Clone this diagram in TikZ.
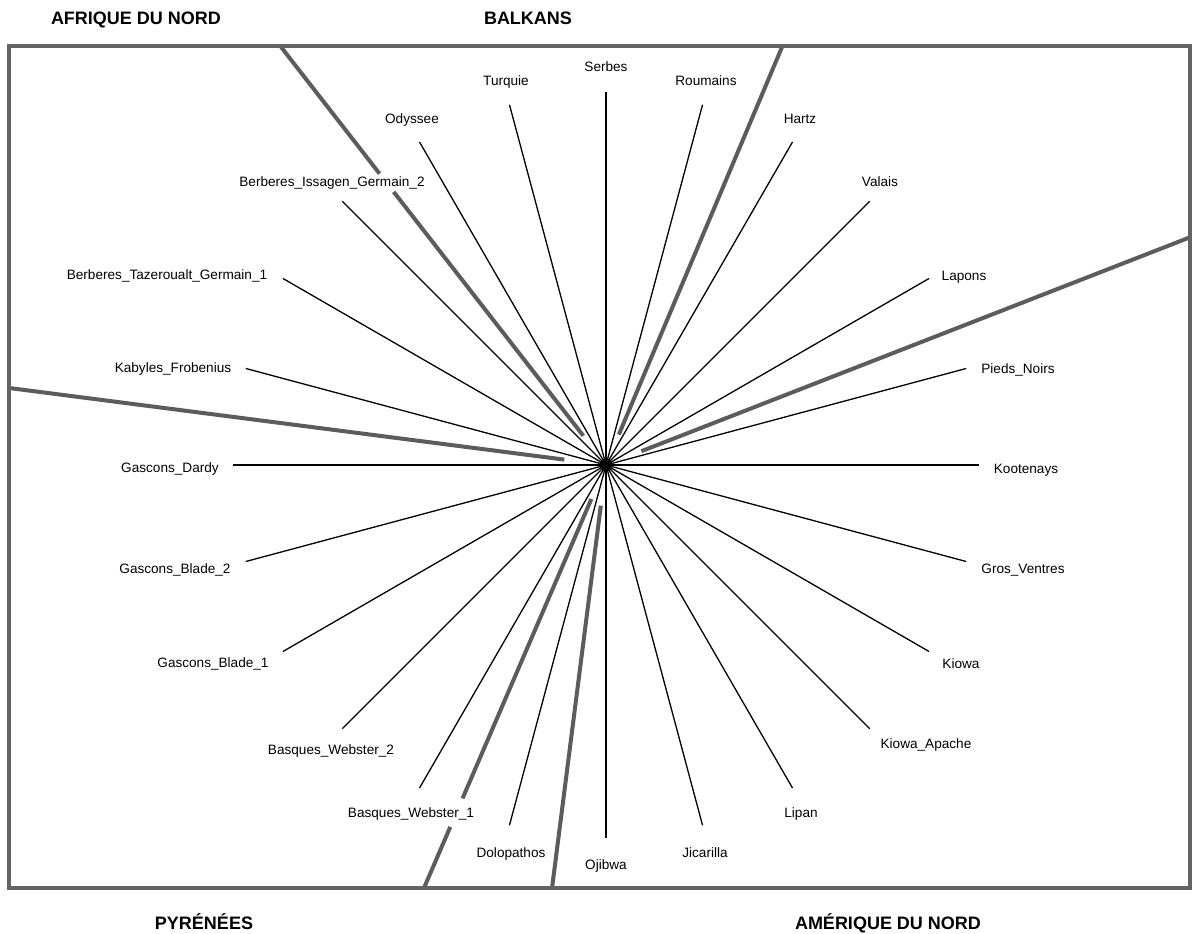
\documentclass[tikz,border=0pt]{standalone}
\usepackage{fontspec}
\setmainfont{Liberation Sans}
\usetikzlibrary{shapes.geometric,calc}
\definecolor{sepgray}{RGB}{92,92,92}
\definecolor{framegray}{RGB}{100,100,100}
\begin{document}
\begin{tikzpicture}[x=1pt,y=1pt,
  ray/.style={line width=1.3pt, black},
  sepline/.style={line width=4pt, sepgray},
  lab/.style={font=\fontsize{13.6}{14}\selectfont, inner sep=0pt, text height=10pt, text depth=0pt, anchor=center},
  region/.style={font=\bfseries\fontsize{18}{20}\selectfont, inner sep=0pt, text height=13pt, text depth=0pt, anchor=center},
  hub/.style={diamond, fill=black, inner sep=0pt, minimum width=16pt, minimum height=17pt}]
\useasboundingbox (0,0) rectangle (1195,934);
\fill[white] (0,0) rectangle (1195,934);
\coordinate (c) at (606,469);
% separating thick lines (clipped by frame)
\begin{scope}
\clip (9,46) rectangle (1190,887.5);
\foreach \a/\ra/\rb [count=\j] in {127.86/37/346, 127.86/369/700, 67.16/33/700, 21.3/38/700,
  172.65/42/700, 246.72/37/363, 246.72/394/700, 262.73/41/700}{
  \coordinate (sa\j) at ($(c)+(\a:\ra)$);
  \coordinate (sb\j) at ($(c)+(\a:\rb)$);
  \draw[sepline] (sa\j) -- (sb\j);
}
\end{scope}
% radial rays and labels
\foreach \a/\t/\x/\y [count=\i] in {
  0/Kootenays/1026/465,
  15/Pieds\_Noirs/1018/565,
  30/Lapons/964/658,
  45/Valais/880/752,
  60/Hartz/800/815,
  75/Roumains/706/853,
  90/Serbes/606/867,
  105/Turquie/506/853,
  120/Odyssee/412/815,
  135/Berberes\_Issagen\_Germain\_2/332/752,
  150/Berberes\_Tazeroualt\_Germain\_1/167/659,
  165/Kabyles\_Frobenius/173/566,
  180/Gascons\_Dardy/170/466,
  195/Gascons\_Blade\_2/175/365,
  210/Gascons\_Blade\_1/213/271,
  225/Basques\_Webster\_2/331/184,
  240/Basques\_Webster\_1/411/121,
  255/Dolopathos/511/81,
  270/Ojibwa/606/69,
  285/Jicarilla/705/81,
  300/Lipan/801/121,
  315/Kiowa\_Apache/926/190,
  330/Kiowa/961/270,
  345/Gros\_Ventres/1023/365}{
  \coordinate (e\i) at ($(c)+(\a:373)$);
  \draw[ray] (c) -- (e\i);
  \node[lab] (l\i) at (\x,\y) {\t};
}
\node[hub] (hubnode) at (c) {};
% frame
\draw[framegray, line width=4pt] (9,46) rectangle (1190,887.5);
% region titles
\node[region] (afr) at (136,915.5) {AFRIQUE DU NORD};
\node[region] (balk) at (528,915.5) {BALKANS};
\node[region] (pyr) at (204,10.5) {PYRÉNÉES};
\node[region] (amer) at (888,10.5) {AMÉRIQUE DU NORD};
\end{tikzpicture}
\end{document}
